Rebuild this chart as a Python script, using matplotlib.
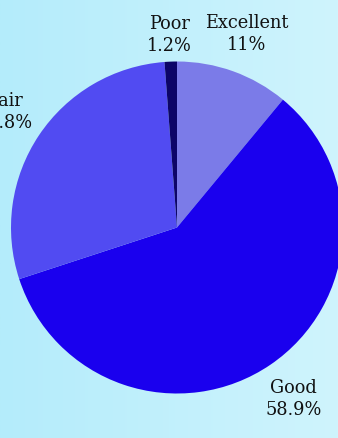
import matplotlib.pyplot as plt
import numpy as np
from matplotlib.colors import LinearSegmentedColormap

# Data
labels = ["Excellent", "Good", "Fair", "Poor"]
values = [11.0, 58.9, 28.8, 1.2]
colors = ["#7b7be8", "#1a00ee", "#514bf2", "#0d0568"]


def main() -> None:
    plt.rcParams["font.family"] = ["DejaVu Serif"]

    fig = plt.figure(figsize=(3.38, 4.38), dpi=100)

    # Background gradient
    bg = fig.add_axes([0, 0, 1, 1])
    cmap = LinearSegmentedColormap.from_list("bg", ["#b4ecfb", "#cff4fd"])
    bg.imshow(np.linspace(0, 1, 256)[None, :], aspect="auto", cmap=cmap,
              extent=[0, 1, 0, 1])
    bg.set_axis_off()

    ax = fig.add_axes([11 / 338, 44.5 / 438, 332 / 338, 332 / 438])
    text_labels = [f"{lab}\n{v:g}%" for lab, v in zip(labels, values)]
    wedges, texts = ax.pie(
        values,
        labels=text_labels,
        colors=colors,
        startangle=90,
        counterclock=False,
        textprops={"fontsize": 12.8, "color": "#111111", "linespacing": 1.25},
    )

    # Place labels around the slices
    dists = [1.24, 1.25, 1.25, 1.16]
    for w, t, d in zip(wedges, texts, dists):
        mid = np.deg2rad((w.theta1 + w.theta2) / 2)
        t.set_position((d * np.cos(mid), d * np.sin(mid)))
        t.set_ha("center")
        t.set_va("center")
        t.set_clip_on(False)

    ax.set_xlim(-1, 1)
    ax.set_ylim(-1, 1)
    ax.set_aspect("equal")

    fig.savefig("out.png", dpi=100)
    plt.close(fig)


if __name__ == "__main__":
    main()
